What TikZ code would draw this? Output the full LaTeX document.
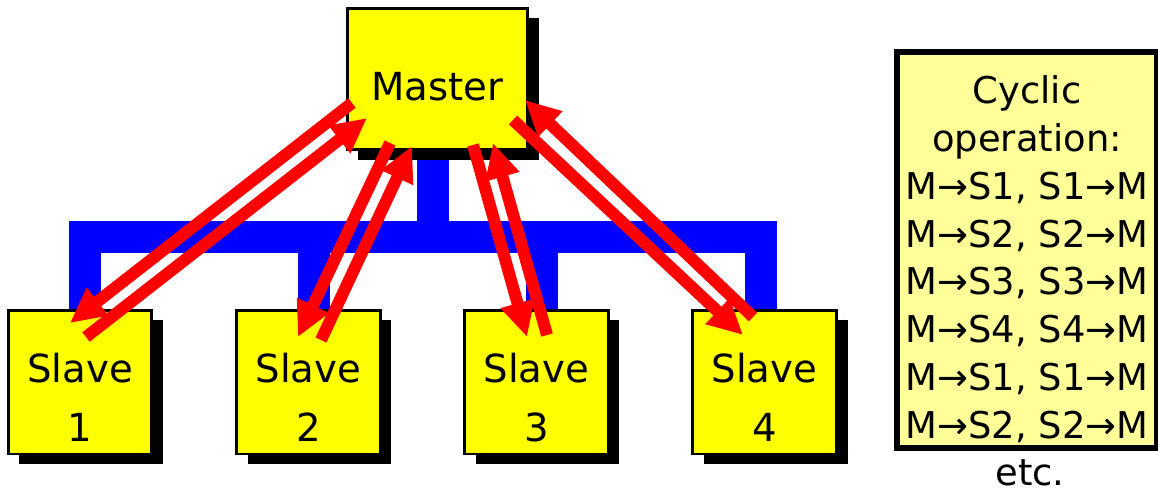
\documentclass[tikz,border=0pt]{standalone}
\usepackage{fontspec}
\setmainfont{DejaVu Sans}
\usetikzlibrary{arrows.meta,shadows,backgrounds}
\definecolor{note}{HTML}{FFFF99}
\definecolor{boxy}{RGB}{255,255,0}
\definecolor{busb}{RGB}{0,0,255}
\definecolor{msgr}{RGB}{255,0,0}
\tikzset{bx/.style = {rectangle, draw=black, line width=0.06cm, fill=boxy, inner sep=0pt,
                      minimum width=2.88cm, minimum height=2.88cm, align=center,
                      font=\fontsize{22}{34}\selectfont,
                      general shadow={fill=black, shadow xshift=0.22cm, shadow yshift=-0.2cm}},
         msg/.style = {draw=msgr, line width=0.24cm},
         bus/.style = {draw=busb, line width=0.64cm, line join=miter}}

\begin{document}
\begin{tikzpicture}[x=0.02cm, y=-0.02cm, >={Triangle[width=0.66cm, length=0.7cm]}]
    \useasboundingbox (0,0) rectangle (1158,491);
    \node[bx, minimum width=3.62cm, minimum height=2.84cm, text height=26pt, text depth=1pt] (m) at (437.5,79) {Master};
    \node[bx, text height=68pt, text depth=0pt] (s1) at (80,382)    {Slave\\1};
    \node[bx, text height=68pt, text depth=0pt] (s2) at (308.5,382) {Slave\\2};
    \node[bx, text height=68pt, text depth=0pt] (s3) at (536.5,382) {Slave\\3};
    \node[bx, text height=68pt, text depth=0pt] (s4) at (764.5,382) {Slave\\4};
    \node[draw, line width=0.12cm, fill=note, inner sep=0pt, minimum width=5.2cm, minimum height=7.92cm,
          align=center, font=\fontsize{21}{27.3}\selectfont, text height=215pt, text depth=0pt] (info) at (1027,250)
          {Cyclic\\operation:\\M→S1, S1→M\\M→S2, S2→M\\M→S3, S3→M\\M→S4, S4→M\\M→S1, S1→M\\M→S2, S2→M};
    \node[font=\fontsize{21}{25}\selectfont, inner sep=0pt] (etc) at (1030,473) {etc.};
    % bus
    \coordinate (bb) at (0,237);
    \coordinate (d1) at ([xshift=0.1cm]s1.north);
    \coordinate (d2) at ([xshift=0.11cm]s2.north);
    \coordinate (d3) at ([xshift=0.11cm]s3.north);
    \coordinate (d4) at ([xshift=-0.08cm]s4.north);
    \coordinate (dm) at ([xshift=-0.09cm]m.south);
    \begin{scope}[on background layer]
      \draw[bus] (d1) |- (bb -| d4) -- (d4);
      \draw[bus] (d2) -- (d2 |- bb);
      \draw[bus] (d3) -- (d3 |- bb);
      \draw[bus] (dm) -- (dm |- bb);
    \end{scope}
    % message ends
    \coordinate (m1o) at (352,103); \coordinate (s1i) at (70,323);
    \coordinate (s1o) at (86,337);  \coordinate (m1i) at (367,118);
    \coordinate (m2o) at (390,143); \coordinate (s2i) at (298,337);
    \coordinate (s2o) at (321,340); \coordinate (m2i) at (412,146);
    \coordinate (m3o) at (473,145); \coordinate (s3i) at (527,337);
    \coordinate (s3o) at (547,335); \coordinate (m3i) at (493,143);
    \coordinate (m4o) at (513,120); \coordinate (s4i) at (743,335);
    \coordinate (s4o) at (753,317); \coordinate (m4i) at (525,100);
    \draw[msg, ->] (m1o) -- (s1i);
    \draw[msg, ->] (s1o) -- (m1i);
    \draw[msg, ->] (m2o) -- (s2i);
    \draw[msg, ->] (s2o) -- (m2i);
    \draw[msg, ->] (m3o) -- (s3i);
    \draw[msg, ->] (s3o) -- (m3i);
    \draw[msg, ->] (m4o) -- (s4i);
    \draw[msg, ->] (s4o) -- (m4i);
\end{tikzpicture}
\end{document}
